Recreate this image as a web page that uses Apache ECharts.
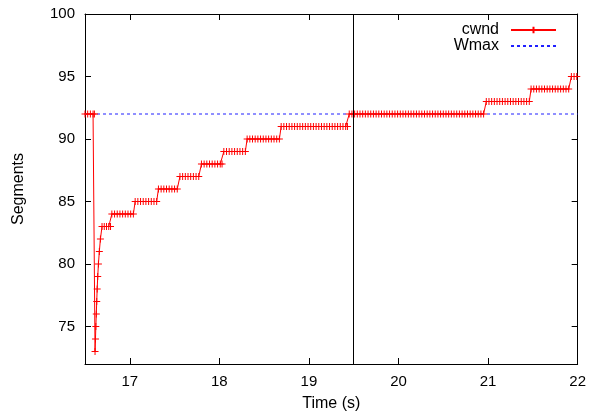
<!DOCTYPE html>
<html>
<head>
<meta charset="utf-8">
<script src="https://cdn.jsdelivr.net/npm/echarts@6/dist/echarts.min.js"></script>
<style>
html, body { margin: 0; padding: 0; background: #fff; }
#chart { width: 589px; height: 418px; }
</style>
</head>
<body>
<div id="chart"></div>
<script>
// axis ticks
const xTicks = [17, 18, 19, 20, 21, 22];
const yTicks = [75, 80, 85, 90, 95, 100];

// cwnd: one level per step, with the sample times
const stepLevels = [92, 73, 74, 75, 76, 77, 78, 79, 80, 81, 82, 83, 84, 85, 86, 87, 88, 89, 90, 91, 92, 93, 94, 95];
const stepTimes = [
	[16.5, 16.53, 16.56, 16.59, 16.605],
	[16.612], [16.617], [16.621], [16.626], [16.631], [16.636], [16.642], [16.65], [16.66], [16.672],
	[16.69, 16.715, 16.74, 16.765, 16.785],
	[16.8, 16.83, 16.86, 16.89, 16.92, 16.95, 16.98, 17.01, 17.04],
	[17.06, 17.09, 17.12, 17.15, 17.18, 17.21, 17.24, 17.27, 17.3],
	[17.32, 17.35, 17.38, 17.41, 17.44, 17.47, 17.5, 17.53],
	[17.56, 17.59, 17.62, 17.65, 17.68, 17.71, 17.74, 17.77],
	[17.8, 17.83, 17.86, 17.89, 17.92, 17.95, 17.98, 18.01, 18.03],
	[18.05, 18.08, 18.11, 18.14, 18.17, 18.2, 18.23, 18.26, 18.29],
	[18.31, 18.34, 18.37, 18.4, 18.43, 18.46, 18.49, 18.52, 18.55, 18.58, 18.61, 18.64, 18.67],
	[18.69, 18.72, 18.75, 18.78, 18.81, 18.84, 18.87, 18.9, 18.93, 18.96, 18.99, 19.02, 19.05,
	 19.08, 19.11, 19.14, 19.17, 19.2, 19.23, 19.26, 19.29, 19.32, 19.35, 19.38, 19.41, 19.43],
	[19.45, 19.48, 19.51, 19.54, 19.57, 19.6, 19.63, 19.66, 19.69, 19.72, 19.75, 19.78, 19.81,
	 19.84, 19.87, 19.9, 19.93, 19.96, 19.99, 20.02, 20.05, 20.08, 20.11, 20.14, 20.17, 20.2,
	 20.23, 20.26, 20.29, 20.32, 20.35, 20.38, 20.41, 20.44, 20.47, 20.5, 20.53, 20.56, 20.59,
	 20.62, 20.65, 20.68, 20.71, 20.74, 20.77, 20.8, 20.83, 20.86, 20.89, 20.92, 20.95],
	[20.98, 21.01, 21.04, 21.07, 21.1, 21.13, 21.16, 21.19, 21.22, 21.25, 21.28, 21.31, 21.34,
	 21.37, 21.4, 21.43, 21.46],
	[21.48, 21.51, 21.54, 21.57, 21.6, 21.63, 21.66, 21.69, 21.72, 21.75, 21.78, 21.81, 21.84,
	 21.87, 21.9],
	[21.93, 21.96, 21.99]
];

// Wmax
const wmaxTimes = [16.5, 22];
const wmaxValue = 92;

// time of the vertical marker
const markTime = 19.5;

let cwndData = [];
for (let i = 0; i < stepLevels.length; i++) {
	for (let j = 0; j < stepTimes[i].length; j++) {
		cwndData.push([stepTimes[i][j], stepLevels[i]]);
	}
}
let wmaxData = wmaxTimes.map(t => [t, wmaxValue]);

const font = 'Liberation Sans, Arial, Helvetica, sans-serif';
let myChart = echarts.init(document.getElementById('chart'));

let tickStyle = {
	show: true,
	inside: true,
	length: 6,
	lineStyle: { color: '#000', width: 1 }
};

let option = {
	animation: false,
	backgroundColor: '#fff',
	grid: {
		left: 85,
		right: 11,
		top: 14,
		bottom: 54,
		show: false
	},
	legend: {
		orient: 'vertical',
		right: 27,
		top: 17,
		align: 'right',
		itemWidth: 45,
		itemHeight: 8,
		itemGap: 0,
		textStyle: {
			fontFamily: font,
			fontSize: 16,
			color: '#000',
			padding: [0, 7, 0, 0]
		},
		data: ['cwnd', 'Wmax']
	},
	xAxis: [{
		type: 'value',
		min: 16.5,
		max: 22,
		position: 'bottom',
		name: 'Time (s)',
		nameLocation: 'middle',
		nameGap: 32,
		nameTextStyle: { fontFamily: font, fontSize: 16, color: '#000' },
		axisLine: { show: true, onZero: false, lineStyle: { color: '#000', width: 1 } },
		axisTick: Object.assign({ customValues: xTicks }, tickStyle),
		axisLabel: {
			customValues: xTicks,
			margin: 10,
			fontFamily: font,
			fontSize: 15,
			color: '#000'
		},
		splitLine: { show: false }
	}, {
		type: 'value',
		min: 16.5,
		max: 22,
		position: 'top',
		axisLine: { show: true, onZero: false, lineStyle: { color: '#000', width: 1 } },
		axisTick: Object.assign({ customValues: xTicks }, tickStyle),
		axisLabel: { show: false },
		splitLine: { show: false }
	}],
	yAxis: [{
		type: 'value',
		min: 72,
		max: 100,
		position: 'left',
		name: 'Segments',
		nameLocation: 'middle',
		nameGap: 58,
		nameTextStyle: { fontFamily: font, fontSize: 16, color: '#000' },
		axisLine: { show: true, onZero: false, lineStyle: { color: '#000', width: 1 } },
		axisTick: Object.assign({ customValues: yTicks }, tickStyle),
		axisLabel: {
			customValues: yTicks,
			margin: 10,
			fontFamily: font,
			fontSize: 15,
			color: '#000'
		},
		splitLine: { show: false }
	}, {
		type: 'value',
		min: 72,
		max: 100,
		position: 'right',
		axisLine: { show: true, onZero: false, lineStyle: { color: '#000', width: 1 } },
		axisTick: Object.assign({ customValues: yTicks }, tickStyle),
		axisLabel: { show: false },
		splitLine: { show: false }
	}],
	series: [{
		name: 'cwnd',
		type: 'line',
		data: cwndData,
		showAllSymbol: true,
		symbol: 'path://M0,5L10,5M5,0L5,10',
		symbolSize: 7,
		lineStyle: { color: '#ff0000', width: 1 },
		itemStyle: { color: '#ff0000', borderColor: '#ff0000', borderWidth: 1 },
		z: 3,
		markLine: {
			silent: true,
			symbol: ['none', 'none'],
			label: { show: false },
			lineStyle: { color: '#000', width: 1, type: 'solid' },
			data: [{ xAxis: markTime }]
		}
	}, {
		name: 'Wmax',
		type: 'line',
		data: wmaxData,
		showSymbol: false,
		symbol: 'none',
		lineStyle: { color: '#2020ff', width: 1, type: [3, 3] },
		// no marker in the legend sample either
		itemStyle: { color: '#2020ff', opacity: 0 },
		z: 2
	}]
};
myChart.setOption(option);
</script>
</body>
</html>
